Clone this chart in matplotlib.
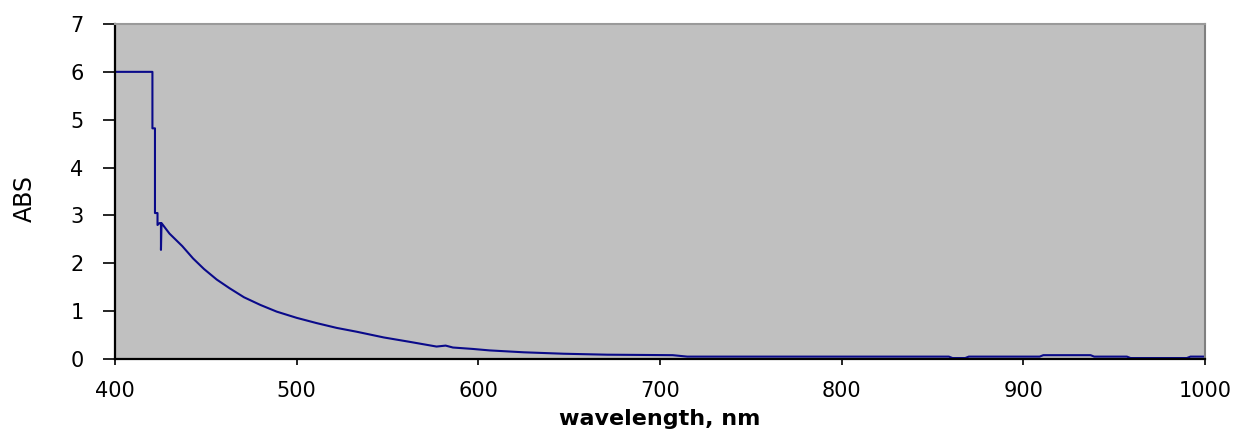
import matplotlib
matplotlib.use('Agg')
import matplotlib.pyplot as plt

# absorbance spectrum, values
wavelength = [400, 420.6, 420.6, 422.0, 422.0, 423.4, 423.4, 424.5, 425.3, 425.3,
              425.6, 430, 437, 443, 449, 456, 463, 471, 480, 489,
              500, 511, 522, 533, 548, 562, 577, 582, 586, 597,
              606, 625, 647, 671, 707, 715, 800, 859, 861, 868,
              870, 909, 911, 937, 939, 957, 959, 990, 992, 1000]
absorbance = [6.0, 6.0, 4.82, 4.82, 3.05, 3.05, 2.80, 2.84, 2.84, 2.28,
              2.84, 2.62, 2.36, 2.10, 1.88, 1.66, 1.48, 1.29, 1.13, 0.99,
              0.86, 0.75, 0.65, 0.57, 0.45, 0.36, 0.26, 0.28, 0.24, 0.21,
              0.18, 0.14, 0.11, 0.09, 0.08, 0.05, 0.05, 0.05, 0.02, 0.02,
              0.05, 0.05, 0.08, 0.08, 0.05, 0.05, 0.02, 0.02, 0.05, 0.05]
x_ticks = [400, 500, 600, 700, 800, 900, 1000]
y_ticks = [0, 1, 2, 3, 4, 5, 6, 7]

plt.rcParams['font.family'] = ['DejaVu Sans']

fig = plt.figure(figsize=(12.42, 4.34), dpi=100)
ax = fig.add_axes([115 / 1242, 75 / 434, 1090 / 1242, 335 / 434])
ax.set_facecolor('#c0c0c0')

ax.plot(wavelength, absorbance, color='#0a0a8a', lw=1.5)

ax.set_xlim(400, 1000)
ax.set_ylim(0, 7)
ax.set_xticks(x_ticks)
ax.set_yticks(y_ticks)

for side in ['left', 'bottom']:
    ax.spines[side].set_color('black')
    ax.spines[side].set_linewidth(1.6)
ax.spines['top'].set_color('#9a9a9a')
ax.spines['right'].set_color('#808080')
ax.spines['top'].set_linewidth(1.5)
ax.spines['right'].set_linewidth(1.5)

ax.tick_params(axis='y', direction='out', length=8.6, width=1.2, pad=14,
               labelsize=15, colors='black')
ax.tick_params(axis='x', direction='out', length=4.5, width=1.2, pad=11,
               labelsize=15, colors='black')

ax.set_ylabel('ABS', fontsize=17, fontweight='medium')
ax.yaxis.set_label_coords(-0.072, 0.48)
ax.set_xlabel('wavelength, nm', fontsize=16, fontweight='bold')
ax.xaxis.set_label_coords(0.5, -0.15)

fig.savefig('out.png', dpi=100)
